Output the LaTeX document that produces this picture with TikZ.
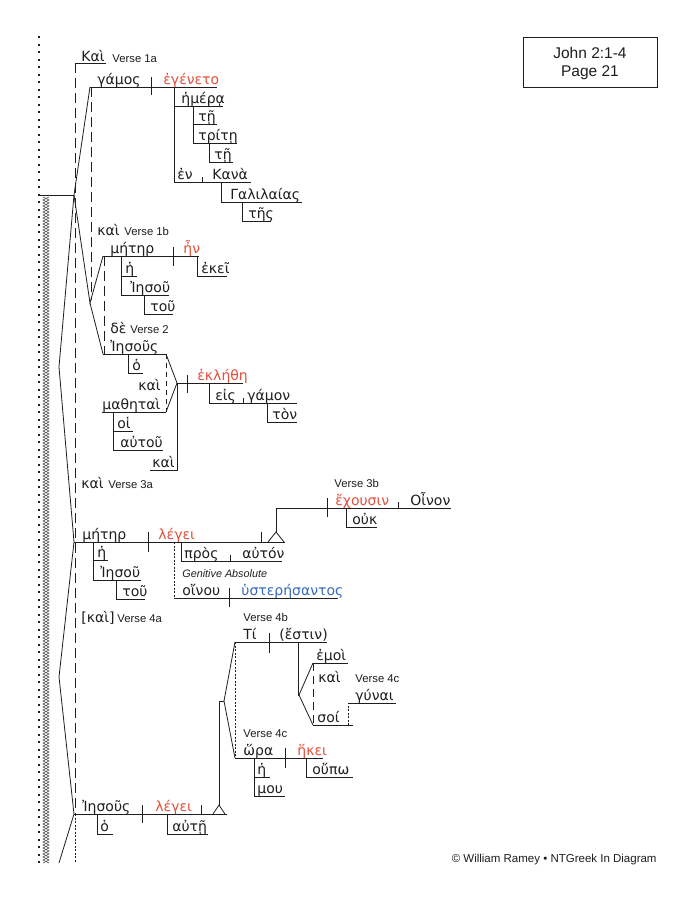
\documentclass[tikz,border=0pt]{standalone}
\usepackage{fontspec}
\setmainfont{Liberation Sans}
\newfontfamily\gk{DejaVu Sans}
\definecolor{vred}{RGB}{226,80,60}
\definecolor{vblue}{RGB}{55,105,185}
\definecolor{ink}{RGB}{30,30,30}
\begin{document}
\begin{tikzpicture}[x=1pt,y=-1pt,line width=0.8pt,
  gw/.style={font=\gk\fontsize{14}{14}\selectfont,inner sep=0pt,anchor=base west,text=ink},
  rw/.style={gw,text=vred},
  bw/.style={gw,text=vblue},
  lbl/.style={font=\fontsize{11.3}{11.3}\selectfont,inner sep=0pt,anchor=base west,text=ink},
  ln/.style={draw=ink,line width=0.8pt},
  dsh/.style={draw=ink,line width=0.8pt,dash pattern=on 10pt off 5pt},
  fdsh/.style={draw=ink,line width=0.6pt,dash pattern=on 2pt off 1.5pt}]
\useasboundingbox (0,0) rectangle (693,898);
\fill[white] (0,0) rectangle (693,898);

% ---------- left border ----------
\draw[ink,line width=2pt,dash pattern=on 2pt off 5.5pt] (39,36) -- (39,863);
\draw[ink!85,line width=0.55pt] (43,197) \foreach \i in {0,...,110}{ -- (49,{200+6*\i}) -- (43,{203+6*\i}) };
\draw[ink!85,line width=0.55pt] (49,197) \foreach \i in {0,...,110}{ -- (43,{200+6*\i}) -- (49,{203+6*\i}) };

% ---------- title & credit ----------
\node[draw=ink,line width=0.8pt,minimum width=134pt,minimum height=50pt,inner sep=0pt] (title) at (590,62) {};
\node[font=\fontsize{15.5}{15.5}\selectfont,inner sep=0pt,anchor=base,text=ink] (title1) at (590,58) {John 2:1-4};
\node[font=\fontsize{15.5}{15.5}\selectfont,inner sep=0pt,anchor=base,text=ink] (title2) at (590,76) {Page 21};
\node[font=\fontsize{11.5}{11.5}\selectfont,inner sep=0pt,anchor=base east,text=ink] (credit) at (657,862) {© William Ramey • NTGreek In Diagram};

% ---------- coordinating skeleton ----------
\coordinate (bar) at (39,195);
\coordinate (v1) at (74,195);
\coordinate (g1) at (90,87);
\coordinate (k1) at (59,367);
\coordinate (m3) at (74,542);
\coordinate (k2) at (59,677);
\coordinate (i4) at (74,814);
\coordinate (endl) at (59,863);
\coordinate (v2) at (90,303);
\coordinate (m1) at (103,256);
\coordinate (i2) at (103,354);
\draw[ln] (bar) -- (v1);
\draw[ln] (g1) -- (v1) -- (k1) -- (m3) -- (k2) -- (i4) -- (endl);
\draw[ln] (v1) -- (v2) -- (m1);
\draw[ln] (v2) -- (i2);
\draw[dsh] (75,63) -- (75,814);
\draw[fdsh] (75,814) -- (75,863);
\draw[dsh] (91,87) -- (91,300);
\draw[dsh] (104,256) -- (104,354);

% ---------- Verse 1a ----------
\draw[ln] (75,63) -- (106,63);
\node[gw] (kai1) at (81,61) {Καὶ};
\node[lbl] (v1a) at (112,62) {Verse 1a};
\draw[ln] (g1) -- (217,87);
\draw[ln] (151,77) -- (151,95);
\node[gw] (gamos) at (97,84.5) {γάμος};
\node[rw] (egeneto) at (163,84.5) {ἐγένετο};
\draw[ln] (174,87) -- (174,182);
\draw[ln] (174,106) -- (223,106);
\node[gw] (hmera) at (181,103.5) {ἡμέρᾳ};
\draw[ln] (193,106) -- (193,143);
\draw[ln] (193,124) -- (217,124);
\node[gw] (th1) at (198,121.5) {τῇ};
\draw[ln] (193,143) -- (237,143);
\node[gw] (trith) at (198,140.5) {τρίτῃ};
\draw[ln] (209,143) -- (209,162);
\draw[ln] (209,162) -- (233,162);
\node[gw] (th2) at (214,159.5) {τῇ};
\draw[ln] (174,182) -- (251,182);
\draw[ln] (202,177) -- (202,182);
\node[gw] (en) at (177,179.5) {ἐν};
\node[gw] (kana) at (212,179.5) {Κανὰ};
\draw[ln] (221,182) -- (221,202);
\draw[ln] (221,202) -- (302,202);
\node[gw] (galil) at (230,199.5) {Γαλιλαίας};
\draw[ln] (242,202) -- (242,221);
\draw[ln] (242,221) -- (271,221);
\node[gw] (ths) at (248,218.5) {τῆς};

% ---------- Verse 1b ----------
\node[gw] (kai2) at (97,235) {καὶ};
\node[lbl] (v1b) at (124,235) {Verse 1b};
\draw[ln] (m1) -- (199,256);
\draw[ln] (173,247) -- (173,266);
\node[gw] (mhthr1) at (110,253.5) {μήτηρ};
\node[rw] (hn) at (183,253.5) {ἦν};
\draw[ln] (197,256) -- (197,276) -- (227,276);
\node[gw] (ekei) at (201,273.5) {ἐκεῖ};
\draw[ln] (121,256) -- (121,295);
\draw[ln] (121,276) -- (137,276);
\node[gw] (h1) at (125,273.5) {ἡ};
\draw[ln] (121,295) -- (169,295);
\node[gw] (ihsou1) at (130,292.5) {Ἰησοῦ};
\draw[ln] (144,295) -- (144,314) -- (173,314);
\node[gw] (tou1) at (150,311.5) {τοῦ};

% ---------- Verse 2 ----------
\node[gw] (de) at (110,333) {δὲ};
\node[lbl] (v2l) at (130,333) {Verse 2};
\coordinate (cs1) at (166,354);
\coordinate (cs2) at (166,412);
\coordinate (cv) at (177,383);
\draw[ln] (i2) -- (cs1);
\node[gw] (ihsous1) at (110,351.5) {Ἰησοῦς};
\draw[ln] (128,354) -- (128,373) -- (143,373);
\node[gw] (ho1) at (132,370.5) {ὁ};
\draw[fdsh,dash pattern=on 5pt off 4pt] (cs1) -- (cs2);
\node[gw] (kai3) at (138,390) {καὶ};
\draw[ln] (102,412) -- (cs2);
\node[gw] (mathhtai) at (102,409.5) {μαθηταὶ};
\draw[ln] (113,412) -- (113,450);
\draw[ln] (113,431) -- (133,431);
\node[gw] (hoi) at (117,428.5) {οἱ};
\draw[ln] (113,450) -- (163,450);
\node[gw] (autou) at (120,447.5) {αὐτοῦ};
\draw[ln] (cs1) -- (cv) -- (cs2);
\draw[ln] (cv) -- (243,383);
\draw[ln] (187,375) -- (187,393);
\node[rw] (eklhthh) at (197,380.5) {ἐκλήθη};
\draw[ln] (cv) -- (177,470) -- (150,470);
\node[gw] (kai4) at (152,467.5) {καὶ};
\draw[ln] (209,383) -- (209,403) -- (297,403);
\draw[ln] (243,398) -- (243,403);
\node[gw] (eis) at (215,400.5) {εἰς};
\node[gw] (gamon) at (247,400.5) {γάμον};
\draw[ln] (267,403) -- (267,422) -- (297,422);
\node[gw] (ton) at (272,419.5) {τὸν};

% ---------- Verse 3a ----------
\node[gw] (kai5) at (81,488) {καὶ};
\node[lbl] (v3a) at (108,488) {Verse 3a};
\draw[ln] (m3) -- (285,542);
\draw[ln] (148,532) -- (148,552);
\node[gw] (mhthr2) at (82,539.5) {μήτηρ};
\node[rw] (legei1) at (158,539.5) {λέγει};
\draw[ln] (261,532) -- (261,542);
\coordinate (st1) at (276,532);
\draw[ln] (268,542) -- (st1) -- (284,542);
\coordinate (c3b) at (276,508);
\draw[ln] (st1) -- (c3b) -- (451,508);
\draw[ln] (327,498) -- (327,517);
\draw[ln] (398,502) -- (398,508);
\node[lbl] (v3b) at (334,487) {Verse 3b};
\node[rw] (exousin) at (335,505.5) {ἔχουσιν};
\node[gw] (oinon) at (410,505.5) {Οἶνον};
\draw[ln] (346,508) -- (346,527) -- (377,527);
\node[gw] (ouk) at (352,524.5) {οὐκ};
\draw[ln] (93,542) -- (93,580);
\draw[ln] (93,560) -- (108,560);
\node[gw] (h2) at (97,557.5) {ἡ};
\draw[ln] (93,580) -- (141,580);
\node[gw] (ihsou2) at (100,577.5) {Ἰησοῦ};
\draw[ln] (116,580) -- (116,599) -- (145,599);
\node[gw] (tou2) at (122,596.5) {τοῦ};
\draw[ln] (181,542) -- (181,561) -- (282,561);
\draw[ln] (230,555) -- (230,561);
\node[gw] (pros) at (184,558.5) {πρὸς};
\node[gw] (auton) at (242,558.5) {αὐτόν};
\node[lbl,font=\itshape\fontsize{10.8}{10.8}\selectfont] (genabs) at (182,577) {Genitive Absolute};
\draw[fdsh] (174,542) -- (174,598);
\draw[ln] (174,598) -- (338,598);
\draw[ln] (229,588) -- (229,607);
\node[gw] (oinou) at (182,595.5) {οἴνου};
\node[bw] (yster) at (241,595.5) {ὑστερήσαντος};

% ---------- Verse 4a ----------
\node[gw] (kai6) at (81,622) {[καὶ]};
\node[lbl] (v4a) at (117,622) {Verse 4a};
\draw[ln] (i4) -- (227,814);
\draw[ln] (142,805) -- (142,823);
\node[gw] (ihsous2) at (82,811.5) {Ἰησοῦς};
\node[rw] (legei2) at (155,811.5) {λέγει};
\draw[ln] (201,805) -- (201,814);
\coordinate (st2) at (219,805);
\draw[ln] (213,814) -- (st2) -- (225,814);
\draw[ln] (97,814) -- (97,834) -- (113,834);
\node[gw] (ho2) at (100,831.5) {ὁ};
\draw[ln] (167,814) -- (167,834) -- (208,834);
\node[gw] (auth) at (172,831.5) {αὐτῇ};

% ---------- Verse 4b / 4c ----------
\coordinate (cv4) at (224,701);
\coordinate (ti) at (235,642);
\coordinate (hora) at (235,758);
\draw[ln] (st2) -- (219,701) -- (cv4);
\draw[ln] (ti) -- (cv4) -- (hora);
\draw[fdsh] (ti) -- (hora);
\node[lbl] (v4b) at (243,621) {Verse 4b};
\draw[ln] (ti) -- (327,642);
\draw[ln] (269,633) -- (269,653);
\node[gw] (Ti) at (243,639.5) {Τί};
\node[gw] (estin) at (279,639.5) {(ἔστιν)};
\coordinate (cv5) at (299,695);
\coordinate (emoi) at (313,663);
\coordinate (soi) at (313,725);
\draw[ln] (298,642) -- (298,695) -- (cv5);
\draw[ln] (emoi) -- (cv5) -- (soi);
\draw[dsh,dash pattern=on 8pt off 5pt] (emoi) -- (soi);
\draw[ln] (emoi) -- (348,663);
\node[gw] (emoiw) at (316,660.5) {ἐμοὶ};
\node[gw] (kai7) at (318,682) {καὶ};
\draw[ln] (soi) -- (353,725);
\node[gw] (soiw) at (317,722.5) {σοί};
\draw[fdsh] (348,725) -- (348,703);
\draw[ln] (348,703) -- (396,703);
\node[gw] (gunai) at (355,700.5) {γύναι};
\node[lbl] (v4c1) at (355,682) {Verse 4c};
\node[lbl] (v4c2) at (243,737) {Verse 4c};
\draw[ln] (hora) -- (323,758);
\draw[ln] (285,748) -- (285,768);
\node[gw] (horaw) at (243,755.5) {ὥρα};
\node[rw] (hkei) at (297,755.5) {ἥκει};
\draw[ln] (254,758) -- (254,796);
\draw[ln] (254,777) -- (270,777);
\node[gw] (h3) at (257,774.5) {ἡ};
\draw[ln] (254,796) -- (285,796);
\node[gw] (mou) at (257,793.5) {μου};
\draw[ln] (306,758) -- (306,777) -- (353,777);
\node[gw] (oupw) at (312,774.5) {οὔπω};
\end{tikzpicture}
\end{document}
